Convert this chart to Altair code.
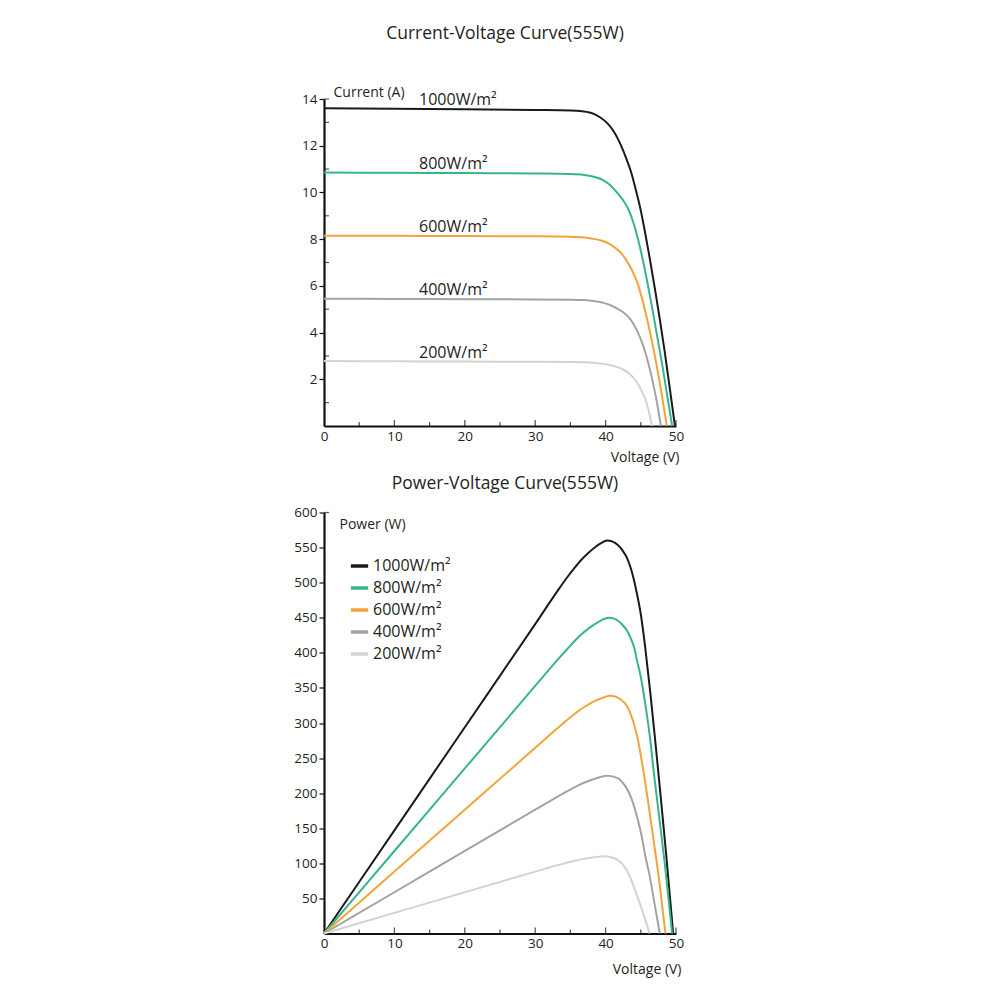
import altair as alt
import pandas as pd

FONT = "Open Sans"
TEXT = "#231f20"
AXIS = "#111111"

levels = ["1000W/m²", "800W/m²", "600W/m²", "400W/m²", "200W/m²"]
line_colors = ["#1a1a1a", "#36b48e", "#f2a43a", "#a3a3a3", "#d3d3d3"]

# Current-voltage curves, one voltage list and one current list per irradiance
iv_v_1000 = [0, 10, 20, 30, 35, 36.4, 38, 39.2, 40.2, 41.1, 41.8, 42.5, 43.1, 43.7, 44.3, 44.9, 45.6, 46.3, 47, 47.7, 48.4, 49.1, 49.85]
iv_i_1000 = [13.6, 13.58, 13.56, 13.53, 13.51, 13.49, 13.4, 13.22, 12.98, 12.64, 12.26, 11.79, 11.32, 10.79, 10.1, 9.36, 8.3, 7.13, 5.88, 4.57, 3.17, 1.65, 0]
iv_v_800 = [0, 10, 20, 30, 35, 37, 38.5, 39.7, 40.7, 41.6, 42.4, 43.2, 44, 45, 46, 46.8, 48, 49, 49.45]
iv_i_800 = [10.85, 10.84, 10.83, 10.81, 10.79, 10.75, 10.66, 10.52, 10.3, 10.0, 9.7, 9.3, 8.66, 7.5, 6.05, 4.75, 2.7, 0.85, 0]
iv_v_600 = [0, 10, 20, 30, 35, 37, 38.5, 39.6, 40.6, 41.5, 42.3, 43, 43.7, 44.4, 45.1, 45.8, 46.5, 47.2, 47.9, 48.7]
iv_i_600 = [8.15, 8.14, 8.13, 8.12, 8.1, 8.07, 8.0, 7.92, 7.79, 7.6, 7.37, 7.07, 6.7, 6.22, 5.55, 4.7, 3.75, 2.68, 1.5, 0]
iv_v_400 = [0, 10, 20, 30, 35, 37, 38.5, 39.7, 40.7, 41.6, 42.4, 43.2, 44, 44.7, 45.4, 46.1, 46.8, 47.3, 47.85]
iv_i_400 = [5.45, 5.44, 5.43, 5.42, 5.41, 5.39, 5.34, 5.27, 5.17, 5.04, 4.89, 4.68, 4.35, 3.93, 3.38, 2.65, 1.75, 1.0, 0]
iv_v_200 = [0, 10, 20, 30, 35, 37, 38.5, 39.7, 40.7, 41.6, 42.4, 43.2, 43.9, 44.6, 45.2, 45.8, 46.2, 46.6]
iv_i_200 = [2.78, 2.77, 2.76, 2.75, 2.74, 2.73, 2.7, 2.66, 2.6, 2.53, 2.43, 2.28, 2.08, 1.8, 1.45, 1.0, 0.55, 0]

# Power-voltage curves
pv_v_1000 = [0, 10, 20, 30, 33.5, 34.5, 35.5, 36.5, 37.5, 38.5, 39.3, 40.2, 41, 41.7, 42.4, 43, 43.5, 44, 44.5, 45, 45.6, 46.3, 47, 47.8, 48.6, 49.6]
pv_p_1000 = [0, 147, 294, 441, 493, 507, 520, 532, 542, 550.5, 556, 560, 558.5, 554, 546, 536, 523, 505, 482, 455, 410, 348, 280, 198, 113, 0]
pv_v_800 = [0, 10, 20, 30, 33.7, 34.7, 35.7, 36.7, 37.7, 38.7, 39.5, 40.4, 41.2, 41.85, 42.5, 43.1, 43.6, 44.1, 44.5, 45, 45.6, 46.3, 46.9, 47.7, 48.5, 49.45]
pv_p_800 = [0, 117.6, 235.2, 352.8, 396, 407, 418, 427.5, 435.6, 442.4, 446.9, 450, 448.7, 445, 438.8, 430.7, 420.3, 406, 387.5, 365.6, 329.4, 279.5, 225, 159, 91, 0]
pv_v_600 = [0, 10, 20, 30, 33.9, 34.9, 35.9, 36.9, 37.9, 38.9, 39.7, 40.6, 41.3, 41.9, 42.5, 43, 43.4, 43.8, 44.2, 44.6, 45.1, 45.7, 46.3, 47, 47.7, 48.5]
pv_p_600 = [0, 88.2, 176.4, 264.6, 298.9, 307.4, 315.4, 322.4, 328.4, 333.2, 336.4, 339, 338, 335, 330.5, 324.5, 316.5, 306, 292, 275.5, 248, 210.5, 169.5, 120, 68.5, 0]
pv_v_400 = [0, 10, 20, 30, 33.5, 34.5, 35.5, 36.5, 37.5, 38.5, 39.3, 40.2, 40.8, 41.4, 42, 42.4, 42.8, 43.2, 43.6, 44, 44.5, 45.1, 45.6, 46.3, 46.9, 47.7]
pv_p_400 = [0, 58.8, 117.6, 176.4, 197, 202.7, 208, 212.8, 217, 220.5, 223, 225, 224.3, 222.5, 219.4, 215, 210, 203, 194, 183, 165, 140, 112.5, 80, 45.5, 0]
pv_v_200 = [0, 10, 20, 30, 33, 34, 35, 36, 37, 38, 38.8, 39.7, 40.26, 40.75, 41.23, 41.65, 42, 42.35, 42.7, 43.04, 43.46, 43.95, 44.44, 45, 45.56, 46.25]
pv_p_200 = [0, 29.4, 58.8, 88.2, 96.8, 99.5, 102.2, 104.5, 106.5, 108.1, 109.2, 110, 109.7, 108.8, 107.3, 105.3, 102.7, 99.2, 94.7, 89.4, 80.5, 68.3, 55, 39, 22.2, 0]

# Axis values
x_labels = [0, 10, 20, 30, 40, 50]
x_major_ticks = [10, 20, 30, 40, 50]
x_minor_ticks = [5, 15, 25, 35, 45]
iv_labels = [2, 4, 6, 8, 10, 12, 14]
iv_inner_ticks = [1, 3, 5, 7, 9, 11, 13, 14]
pv_labels = [50, 100, 150, 200, 250, 300, 350, 400, 450, 500, 550, 600]
pv_inner_ticks = [600]
label_volt = 13.5


def frame(series, ycol):
    rows = []
    for level, xs, ys in series:
        for x, y in zip(xs, ys):
            rows.append({"level": level, "V": x, ycol: y})
    return pd.DataFrame(rows)


iv_df = frame([
    (levels[0], iv_v_1000, iv_i_1000),
    (levels[1], iv_v_800, iv_i_800),
    (levels[2], iv_v_600, iv_i_600),
    (levels[3], iv_v_400, iv_i_400),
    (levels[4], iv_v_200, iv_i_200),
], "Y")

pv_df = frame([
    (levels[0], pv_v_1000, pv_p_1000),
    (levels[1], pv_v_800, pv_p_800),
    (levels[2], pv_v_600, pv_p_600),
    (levels[3], pv_v_400, pv_p_400),
    (levels[4], pv_v_200, pv_p_200),
], "Y")

iv_label_df = pd.DataFrame({
    "level": levels,
    "V": [label_volt] * 5,
    "Y": [iv_i_1000[0], iv_i_800[0], iv_i_600[0], iv_i_400[0], iv_i_200[0]],
})

x_scale = alt.Scale(domain=[0, 50], nice=False)
iv_scale = alt.Scale(domain=[0, 14], nice=False)
pv_scale = alt.Scale(domain=[0, 600], nice=False)
color_scale = alt.Scale(domain=levels, range=line_colors)


def x_axis(title_y, title_x):
    return alt.Axis(
        values=x_labels, ticks=False, grid=False, labelFlush=False, labelOverlap=False,
        labelFont=FONT, labelFontSize=13.5, labelColor=TEXT, labelPadding=3,
        domainColor=AXIS, domainWidth=2.2,
        title="Voltage (V)", titleFont=FONT, titleFontSize=14, titleFontWeight="normal",
        titleColor=TEXT, titleAlign="right", titleBaseline="middle",
        titleX=title_x, titleY=title_y,
    )


def y_axis(values, title, title_x, title_y):
    return alt.Axis(
        values=values, grid=False, labelFlush=False, labelOverlap=False,
        labelFont=FONT, labelFontSize=13.5, labelColor=TEXT, labelPadding=2,
        ticks=True, tickSize=5, tickWidth=1.2, tickColor=AXIS,
        domainColor=AXIS, domainWidth=2.2,
        title=title, titleFont=FONT, titleFontSize=14, titleFontWeight="normal",
        titleColor=TEXT, titleAngle=0, titleAlign="left", titleBaseline="middle",
        titleX=title_x, titleY=title_y,
    )


def panel(df, yscale, xax, yax, color, title, height, extra_ticks, text_df=None):
    enc_x = alt.X("V:Q", scale=x_scale, axis=xax)
    enc_y = alt.Y("Y:Q", scale=yscale, axis=yax)
    lines = alt.Chart(df).mark_line(strokeWidth=2, interpolate="monotone").encode(
        x=enc_x, y=enc_y, color=color,
    )
    layers = [lines]
    if text_df is not None:
        layers.append(
            alt.Chart(text_df).mark_text(
                align="left", baseline="middle", dy=-8.5, font=FONT, fontSize=16, color=TEXT
            ).encode(x=enc_x, y=enc_y, text="level:N")
        )
    # short ticks pointing into the plot along the voltage axis
    for values, size in ((x_minor_ticks, 4), (x_major_ticks, 6)):
        layers.append(
            alt.Chart(pd.DataFrame({"V": values})).mark_tick(
                orient="vertical", size=size, thickness=1.3, yOffset=-size / 2, color=AXIS
            ).encode(x=enc_x, y=alt.YDatum(0, scale=yscale, axis=yax))
        )
    # short ticks pointing into the plot along the value axis
    layers.append(
        alt.Chart(pd.DataFrame({"Y": extra_ticks})).mark_tick(
            orient="horizontal", size=5, thickness=1.2, xOffset=2.5, color=AXIS
        ).encode(y=enc_y, x=alt.XDatum(0, scale=x_scale, axis=xax))
    )
    return alt.layer(*layers).properties(width=352, height=height, title=title)


def chart_title(text, offset):
    return alt.Title(
        text, font=FONT, fontSize=17.5, fontWeight="normal", color=TEXT,
        anchor="middle", frame="group", offset=offset, dx=5,
    )


iv_chart = panel(
    iv_df, iv_scale, x_axis(31, 355), y_axis(iv_labels, "Current (A)", 9, -7),
    alt.Color("level:N", scale=color_scale, legend=None),
    chart_title("Current-Voltage Curve(555W)", 42.5), 327, iv_inner_ticks, iv_label_df,
)

pv_chart = panel(
    pv_df, pv_scale, x_axis(36, 357), y_axis(pv_labels, "Power (W)", 15, 12),
    alt.Color(
        "level:N", scale=color_scale,
        legend=alt.Legend(
            title=None, orient="none", legendX=25, legendY=43,
            symbolType="stroke", symbolSize=300, symbolStrokeWidth=3.5,
            labelFont=FONT, labelFontSize=16, labelColor=TEXT,
            labelOffset=3, rowPadding=3, padding=0,
        ),
    ),
    chart_title("Power-Voltage Curve(555W)", 13), 421, pv_inner_ticks,
)

chart = alt.vconcat(iv_chart, pv_chart, spacing=10.5).resolve_scale(
    color="independent"
).configure_view(stroke=None).properties(
    padding={"left": 293, "top": 25, "right": 5, "bottom": 5},
    background="white",
)

chart.save("out.html", embed_options={"renderer": "svg", "actions": False})
